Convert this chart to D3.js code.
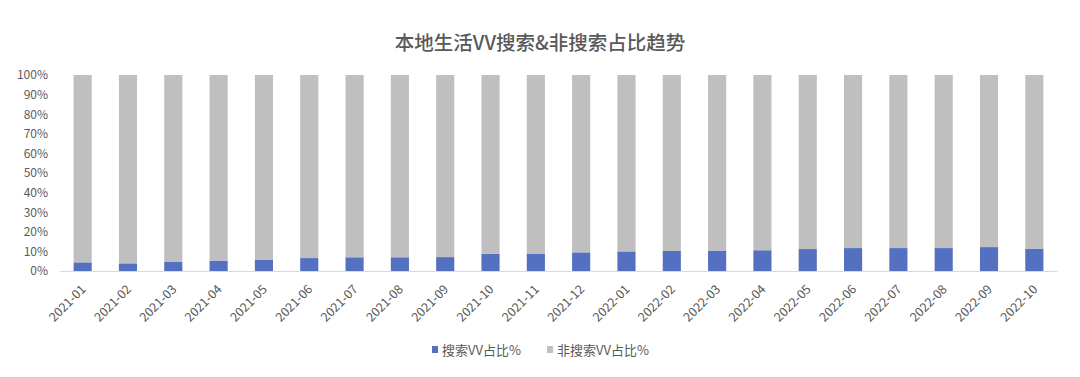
<!DOCTYPE html>
<html>
<head>
<meta charset="utf-8">
<script src="https://cdn.jsdelivr.net/npm/d3@7"></script>
<style>
  body { margin: 0; background: #fff; }
  text { font-family: "Noto Sans CJK SC", "Noto Sans", sans-serif; fill: #595959; }
</style>
</head>
<body>
<script>
// months along the x axis
var months = ["2021-01","2021-02","2021-03","2021-04","2021-05","2021-06","2021-07","2021-08","2021-09","2021-10","2021-11","2021-12",
              "2022-01","2022-02","2022-03","2022-04","2022-05","2022-06","2022-07","2022-08","2022-09","2022-10"];
// share of search VV, %
var searchPct = [4.4,3.9,4.6,5.3,5.8,6.6,7.0,7.0,7.1,8.8,8.9,9.5,10.0,10.2,10.4,10.6,11.2,11.7,11.7,11.7,12.2,11.4];
// share of non-search VV, %
var nonSearchPct = [95.6,96.1,95.4,94.7,94.2,93.4,93.0,93.0,92.9,91.2,91.1,90.5,90.0,89.8,89.6,89.4,88.8,88.3,88.3,88.3,87.8,88.6];
var yTicks = [0,10,20,30,40,50,60,70,80,90,100];
var seriesNames = ["搜索VV占比%", "非搜索VV占比%"];
var colors = ["#5470c1", "#bfbfbf"];

var W = 1080, H = 377;
var margin = {top: 75, right: 23, bottom: 106, left: 60};
var width = 997;
var height = H - margin.top - margin.bottom;

var svg = d3.select("body").append("svg")
    .attr("width", W)
    .attr("height", H);

svg.append("text")
    .attr("x", 540)
    .attr("y", 50)
    .attr("text-anchor", "middle")
    .style("font-size", "19.5px")
    .style("font-weight", "500")
    .text("本地生活VV搜索&非搜索占比趋势");

var g = svg.append("g")
    .attr("transform", "translate(" + margin.left + "," + margin.top + ")");

var x = d3.scaleBand()
    .domain(months)
    .range([0, width])
    .paddingInner(0.6)
    .paddingOuter(0.3);

var y = d3.scaleLinear()
    .domain([0, 100])
    .range([height, 0]);

var data = months.map(function(m, i) {
  return {month: m, s: searchPct[i], n: nonSearchPct[i]};
});

var stack = d3.stack().keys(["s", "n"]);
var layers = stack(data);

g.selectAll(".layer")
    .data(layers)
  .enter().append("g")
    .attr("class", "layer")
    .attr("fill", function(d, i) { return colors[i]; })
  .selectAll("rect")
    .data(function(d) { return d; })
  .enter().append("rect")
    .attr("x", function(d) { return x(d.data.month); })
    .attr("width", x.bandwidth())
    .attr("y", function(d) { return y(d[1]); })
    .attr("height", function(d) { return y(d[0]) - y(d[1]); });

// y axis, no line
var yAxis = d3.axisLeft(y)
    .tickValues(yTicks)
    .tickSize(0)
    .tickPadding(12)
    .tickFormat(function(d) { return d + "%"; });

g.append("g")
    .call(yAxis)
    .call(function(s) { s.select(".domain").remove(); })
    .selectAll("text")
    .style("font-size", "12px")
    .style("fill", "#595959");

// x axis
var xAxis = d3.axisBottom(x).tickSize(0);
var xg = g.append("g")
    .attr("transform", "translate(0," + height + ")")
    .call(xAxis);
xg.select(".domain").attr("stroke", "#d9d9d9");
xg.selectAll("text")
    .style("font-size", "12.5px")
    .style("fill", "#595959")
    .attr("text-anchor", "end")
    .attr("x", 0)
    .attr("y", 0)
    .attr("dy", 0)
    .attr("transform", "translate(4,19) rotate(-45)");

// legend
var legendX = [432, 547];
var legend = svg.selectAll(".legend")
    .data(seriesNames)
  .enter().append("g")
    .attr("class", "legend")
    .attr("transform", function(d, i) { return "translate(" + legendX[i] + ",350)"; });
legend.append("rect")
    .attr("y", -4)
    .attr("width", 6)
    .attr("height", 7)
    .attr("fill", function(d, i) { return colors[i]; });
legend.append("text")
    .attr("x", 10)
    .attr("y", 0)
    .attr("dy", "0.35em")
    .style("font-size", "13px")
    .text(function(d) { return d; });
</script>
</body>
</html>
